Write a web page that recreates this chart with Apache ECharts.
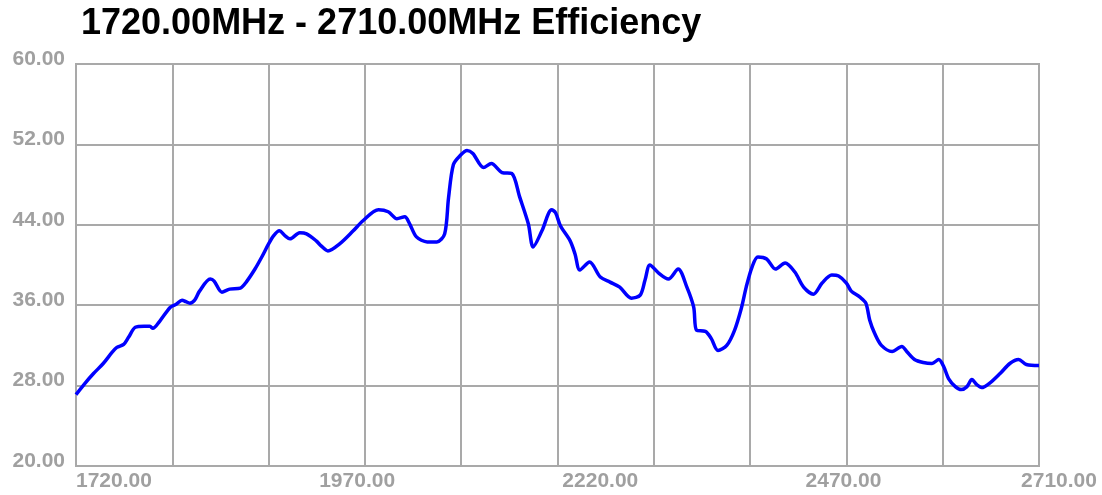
<!DOCTYPE html>
<html>
<head>
<meta charset="utf-8">
<script src="https://cdn.jsdelivr.net/npm/echarts@6/dist/echarts.min.js"></script>
<style>
html,body{margin:0;padding:0;background:#fff;}
#chart{width:1102px;height:495px;}
</style>
</head>
<body>
<div id="chart"></div>
<script>
const titleText = '1720.00MHz - 2710.00MHz Efficiency';
const freqMin = 1720;
const freqMax = 2710;
const yMin = 20;
const yMax = 60;
const yStep = 8;
const gridStepMHz = 99;
const xLabelValues = [1720, 1970, 2220, 2470, 2710];

const freqs = [1720,1729,1738,1748,1757,1762,1769,1774,1781,1790,1796,1799,1806,1817,1823,1829,1833,1837,1842,1847,1858,1862,1870,1878,1889,1895,1904,1911,1918,1923,1929,1935,1940,1950,1957,1967,1972,1979,1991,2005,2015,2031,2041,2050,2058,2063,2070,2081,2091,2099,2103,2108,2115,2122,2128,2139,2147,2158,2168,2176,2185,2190,2199,2209,2213,2218,2228,2233,2238,2248,2259,2269,2279,2291,2300,2305,2310,2319,2329,2339,2348,2355,2358,2367,2373,2380,2389,2397,2404,2409,2415,2421,2430,2439,2449,2459,2468,2478,2487,2497,2504,2512,2517,2526,2532,2536,2541,2548,2559,2569,2574,2582,2591,2600,2607,2612,2617,2624,2630,2636,2641,2646,2651,2660,2670,2680,2689,2697,2710];
const efficiency = [27.1,28.2,29.2,30.2,31.3,31.8,32.1,32.8,33.8,33.9,33.9,33.7,34.4,35.8,36.1,36.5,36.35,36.2,36.5,37.4,38.6,38.4,37.3,37.6,37.7,38.3,39.6,40.8,42.1,42.9,43.4,42.9,42.6,43.2,43.1,42.4,41.9,41.4,42.1,43.4,44.4,45.5,45.3,44.6,44.8,44.1,42.8,42.3,42.3,43.1,46.7,50.0,50.9,51.4,51.1,49.7,50.1,49.2,49.1,46.8,44.1,41.8,43.4,45.5,45.2,43.9,42.4,41.1,39.5,40.3,38.8,38.3,37.8,36.7,37.0,38.5,40.0,39.2,38.6,39.6,37.8,35.8,33.5,33.4,32.7,31.5,32.0,33.5,35.7,37.8,39.8,40.8,40.6,39.6,40.2,39.3,37.8,37.1,38.2,39.0,38.9,38.2,37.4,36.8,36.2,34.5,33.2,32.0,31.4,31.9,31.4,30.6,30.3,30.2,30.6,29.9,28.7,27.9,27.6,27.9,28.6,28.1,27.8,28.3,29.2,30.2,30.6,30.1,30.0];

const gridColor = '#a9a9a9';
const labelColor = '#a0a0a0';
const fontFam = '"Liberation Sans", Arial, sans-serif';
const labelFont = {color: labelColor, fontFamily: fontFam, fontWeight: 'bold', fontSize: 21};

const chart = echarts.init(document.getElementById('chart'), null, {renderer: 'canvas'});
chart.setOption({
  animation: false,
  backgroundColor: '#ffffff',
  title: {
    text: titleText,
    left: 76,
    top: 1,
    textStyle: {fontFamily: fontFam, fontWeight: 'bold', fontSize: 36, color: '#000000'}
  },
  grid: {left: 76, right: 63, top: 64, bottom: 29, show: true, borderColor: gridColor, borderWidth: 2},
  xAxis: [
    {
      type: 'value', min: freqMin, max: freqMax,
      axisLine: {show: false}, axisTick: {show: false}, splitLine: {show: false},
      axisLabel: Object.assign({
        customValues: xLabelValues,
        align: 'left', alignMaxLabel: 'center', margin: 5,
        formatter: function (v) {
          const s = Number(v).toFixed(2);
          return v === freqMax ? '{m|' + s + '}' : s;
        },
        rich: {m: Object.assign({padding: [0, 0, 0, 40]}, labelFont)}
      }, labelFont)
    },
    {
      type: 'value', min: 0, max: freqMax - freqMin, interval: gridStepMHz,
      position: 'bottom', show: true,
      axisLine: {show: false}, axisTick: {show: false}, axisLabel: {show: false},
      splitLine: {show: true, lineStyle: {color: gridColor, width: 2}}
    }
  ],
  yAxis: {
    type: 'value', min: yMin, max: yMax, interval: yStep,
    axisLine: {show: false}, axisTick: {show: false},
    splitLine: {show: true, lineStyle: {color: gridColor, width: 2}},
    axisLabel: Object.assign({
      margin: 11, verticalAlign: 'middle',
      formatter: function (v) { return '{y|' + Number(v).toFixed(2) + '}'; },
      rich: {y: Object.assign({padding: [0, 0, 10, 0]}, labelFont)}
    }, labelFont)
  },
  series: [{
    type: 'line',
    xAxisIndex: 0,
    data: freqs.map((f, i) => [f, efficiency[i]]),
    showSymbol: false,
    smooth: 0.3,
    lineStyle: {color: '#0000ff', width: 3.5},
    itemStyle: {color: '#0000ff'}
  }]
});
</script>
</body>
</html>
